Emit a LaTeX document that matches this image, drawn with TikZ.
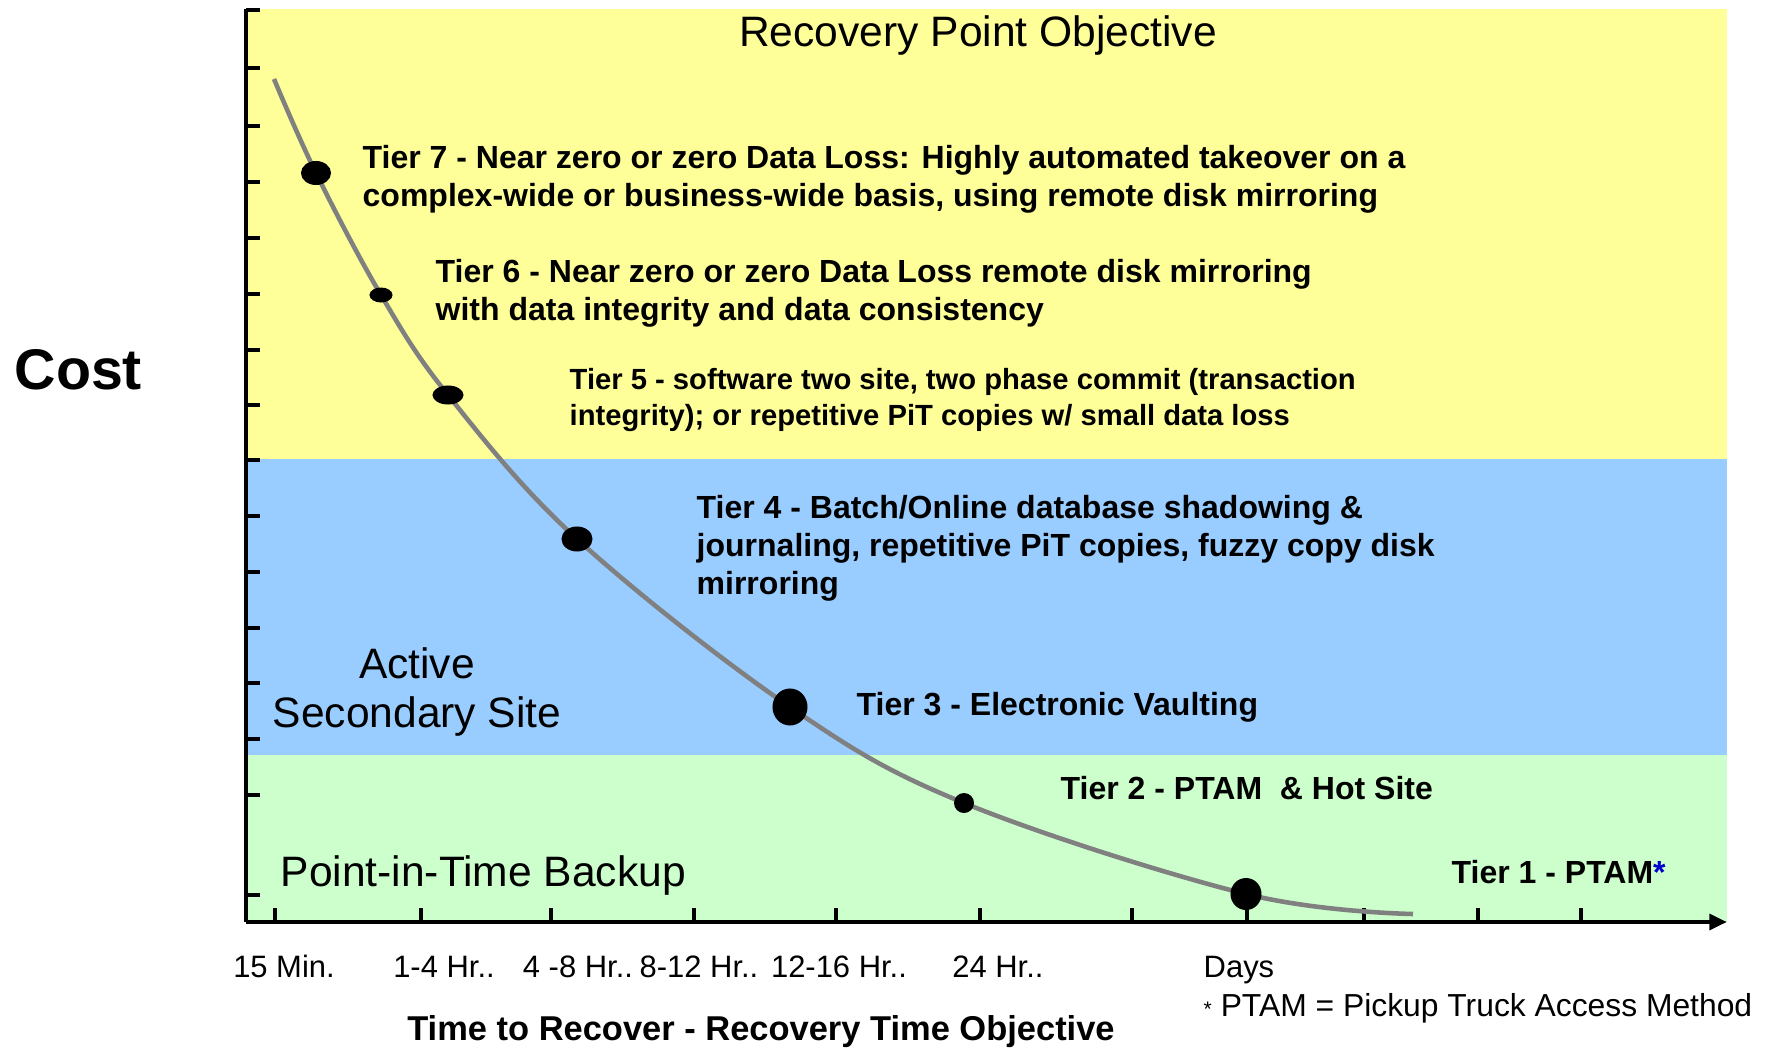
\documentclass[tikz,border=0pt]{standalone}
\usepackage{fontspec}
\setmainfont{Liberation Sans}
\usetikzlibrary{shapes.geometric,arrows.meta}
\definecolor{rpo}{HTML}{FFFF99}
\definecolor{act}{HTML}{99CCFF}
\definecolor{pit}{HTML}{CCFFCC}
\definecolor{crv}{HTML}{808080}
\definecolor{ast}{HTML}{0000CC}
\tikzset{
    dot/.style={ellipse, fill=black, inner sep=0pt},
    tier/.style={anchor=base west, align=left, inner sep=0pt, font=\bfseries\fontsize{9.1}{10.7}\selectfont},
    lbl/.style={anchor=base, inner sep=0pt, font=\fontsize{8.8}{10}\selectfont},
    zone/.style={inner sep=0pt, align=center, font=\fontsize{12.1}{14.2}\selectfont},
    axis/.style={line width=1.2pt},
    tick/.style={line width=1.2pt}
}
\begin{document}
\begin{tikzpicture}[x=0.01cm, y=-0.01cm]
                \useasboundingbox (0,0) rectangle (1768,1048);
                \fill[rpo] (248,9) rectangle (1727,459);
                \fill[act] (248,459) rectangle (1727,755);
                \fill[pit] (248,755) rectangle (1727,922);

                \coordinate (yt) at (246,9);
                \coordinate (o) at (246,922);
                \coordinate (xe) at (1727,922);
                \draw[axis] (yt) -- (o);
                \draw[axis, -{Triangle[length=5pt, width=4.4pt]}] (o) -- (xe);
                \foreach \y in {10,68,126,182,238,294,350,405,460,516,572,628,683,739,795,895}
                    \draw[tick] (246,\y) -- ++(14,0);
                \foreach \x in {275,421,551,694,836,980,1132,1247,1364,1478,1581}
                    \draw[tick] (\x,922) -- ++(0,-14);

                \coordinate (c0) at (274,79);
                \coordinate (p7) at (316,173);
                \coordinate (p6) at (381,295);
                \coordinate (p5) at (448,395);
                \coordinate (p4) at (577,539);
                \coordinate (p3) at (790,707);
                \coordinate (p2) at (964,803);
                \coordinate (p1) at (1246,894);
                \coordinate (c1) at (1413,914);
                \draw[crv, line width=1.3pt] plot[smooth, tension=0.6] coordinates {(c0) (p7) (p6) (p5) (p4) (p3) (p2) (p1) (c1)};

                \node[dot, minimum width=0.30cm, minimum height=0.24cm] (t7) at (p7) {};
                \node[dot, minimum width=0.23cm, minimum height=0.15cm] (t6) at (p6) {};
                \node[dot, minimum width=0.31cm, minimum height=0.19cm] (t5) at (p5) {};
                \node[dot, minimum width=0.31cm, minimum height=0.25cm] (t4) at (p4) {};
                \node[dot, minimum width=0.35cm, minimum height=0.37cm] (t3) at (p3) {};
                \node[dot, minimum width=0.20cm, minimum height=0.20cm] (t2) at (p2) {};
                \node[dot, minimum width=0.31cm, minimum height=0.32cm] (t1) at (p1) {};

                \node[tier] (l7) at (362,206) {Tier 7 - Near zero or zero Data Loss: Highly automated takeover on a\\complex-wide or business-wide basis, using remote disk mirroring};
                \node[tier] (l6) at (435,320) {Tier 6 - Near zero or zero Data Loss remote disk mirroring\\with data integrity and data consistency};
                \node[tier, font=\bfseries\fontsize{8.3}{10}\selectfont] (l5) at (569,425) {Tier 5 - software two site, two phase commit (transaction\\integrity); or repetitive PiT copies w/ small data loss};
                \node[tier] (l4) at (696,594) {Tier 4 - Batch/Online database shadowing \&\\journaling, repetitive PiT copies, fuzzy copy disk\\mirroring};
                \node[tier] (l3) at (856,715) {Tier 3 - Electronic Vaulting};
                \node[tier] (l2) at (1060,799) {Tier 2 - PTAM\ \ \& Hot Site};
                \node[tier] (l1) at (1451,883) {Tier 1 - PTAM\textcolor{ast}{*}};

                \node[zone, anchor=base] (rpot) at (978,46) {Recovery Point Objective};
                \node[zone] (ass) at (417,692) {Active\\Secondary Site};
                \node[zone, anchor=base west] (pitb) at (280,886) {Point-in-Time Backup};
                \node[anchor=base west, inner sep=0pt, font=\bfseries\fontsize{16.3}{18}\selectfont] (cost) at (14,389) {Cost};

                \node[lbl] (m15) at (284,977) {15 Min.};
                \node[lbl] (h1) at (444,977) {1-4 Hr..};
                \node[lbl] (h4) at (578,977) {4 -8 Hr..};
                \node[lbl] (h8) at (699,977) {8-12 Hr..};
                \node[lbl] (h12) at (839,977) {12-16 Hr..};
                \node[lbl] (h24) at (998,977) {24 Hr..};
                \node[lbl, anchor=base west] (days) at (1203,977) {Days};
                \node[lbl, anchor=base west, font=\fontsize{9.05}{10}\selectfont] (note) at (1203,1016) {{\fontsize{6}{6}\selectfont *} PTAM = Pickup Truck Access Method};
                \node[anchor=base, inner sep=0pt, font=\bfseries\fontsize{9.8}{11}\selectfont] (rto) at (761,1040) {Time to Recover - Recovery Time Objective};
\end{tikzpicture}
\end{document}
